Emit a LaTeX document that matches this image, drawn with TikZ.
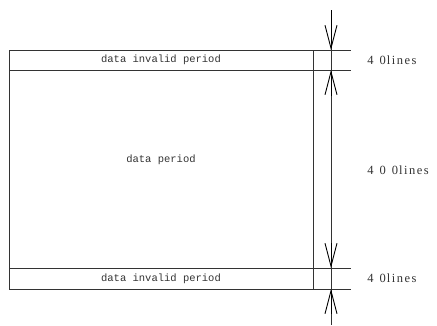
\documentclass[tikz,border=0pt]{standalone}
\usepackage{fontspec}
\setmainfont{Liberation Serif}
\newfontfamily\monof{Liberation Mono}
\newfontfamily\spacedf[LetterSpace=12]{Liberation Serif}
\usetikzlibrary{arrows.meta}
\begin{document}
\begin{tikzpicture}[x=1pt,y=-1pt,line width=0.9pt,
  ln/.style={draw=black!80},
  dim/.style={draw=black,-{Straight Barb[length=23pt,width=12pt,line width=0.9pt]}},
  lbl/.style={font=\monof\fontsize{10.5}{12}\selectfont,text=black!80},
  rlbl/.style={font=\spacedf\fontsize{12.5}{14}\selectfont,text=black!80,anchor=west,inner sep=0pt}]
\useasboundingbox (0,0) rectangle (437,325);
% coordinates
\coordinate (tl) at (9,50);
\coordinate (bl) at (9,289);
\coordinate (tr) at (313,50);
\coordinate (br) at (313,289);
\coordinate (e1) at (351,50);
\coordinate (e2) at (351,70);
\coordinate (e3) at (351,268);
\coordinate (e4) at (351,289);
\coordinate (m2l) at (9,70);
\coordinate (m3l) at (9,268);
\coordinate (vtop) at (331,10);
\coordinate (vbot) at (331,325);
% box
\draw[ln] (tl) -- (e1);
\draw[ln] (m2l) -- (e2);
\draw[ln] (m3l) -- (e3);
\draw[ln] (bl) -- (e4);
\draw[ln] (tl) -- (bl);
\draw[ln] (tr) -- (br);
% dimension line
\draw[ln] (vtop) -- (vbot);
\coordinate (a1s) at (331,10);  \coordinate (a1e) at (331,50);
\coordinate (a2s) at (331,96);  \coordinate (a2e) at (331,70);
\coordinate (a3s) at (331,243); \coordinate (a3e) at (331,268);
\coordinate (a4s) at (331,314); \coordinate (a4e) at (331,289);
\draw[dim] (a1s) -- (a1e);
\draw[dim] (a2s) -- (a2e);
\draw[dim] (a3s) -- (a3e);
\draw[dim] (a4s) -- (a4e);
% labels
\node[lbl] (t1) at (161,60) {data invalid period};
\node[lbl] (t2) at (161,160) {data period};
\node[lbl] (t3) at (161,278.5) {data invalid period};
\node[rlbl] (r1) at (367,60.5) {4\hspace{6pt}0\hspace{1pt}lines};
\node[rlbl] (r2) at (367,170.5) {4\hspace{6pt}0\hspace{6pt}0\hspace{1pt}lines};
\node[rlbl] (r3) at (367,278.5) {4\hspace{6pt}0\hspace{1pt}lines};
\end{tikzpicture}
\end{document}
